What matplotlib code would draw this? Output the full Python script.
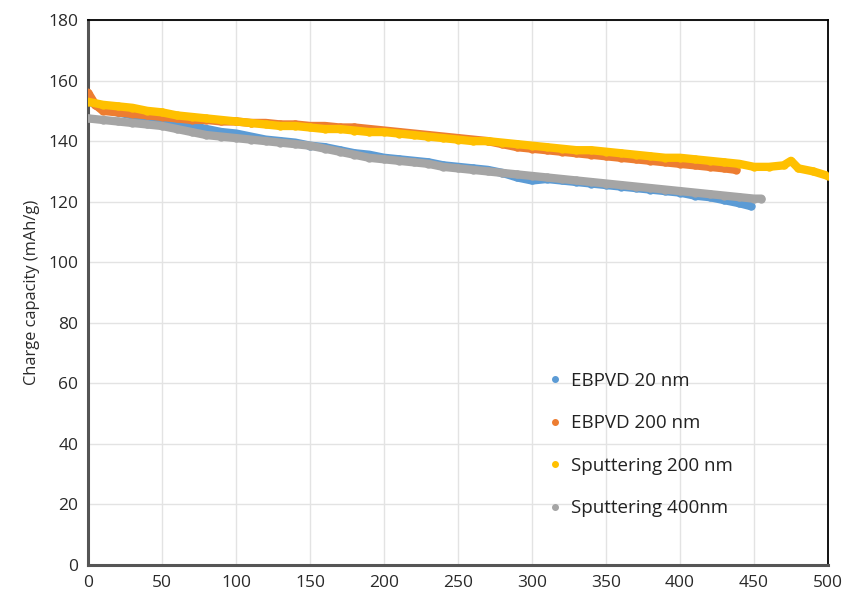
import matplotlib
matplotlib.use("Agg")
from matplotlib import pyplot as plt
from matplotlib.lines import Line2D

# values, every ~10 cycles
x_blue = [0, 10, 20, 30, 40, 50, 60, 70, 80, 90, 100, 110, 120, 130, 140, 150, 160, 170, 180, 190,
          200, 210, 220, 230, 240, 250, 260, 270, 280, 290, 300, 310, 320, 330, 340, 350, 360, 370,
          380, 390, 400, 410, 420, 430, 440, 448]
y_blue = [153.5, 150.5, 149.5, 148.5, 147.5, 146.5, 145.5, 145, 144, 143, 142.5, 141.5, 140.5, 140,
          139.5, 138.5, 138, 137, 136, 135.5, 134.5, 134, 133.5, 133, 132, 131.5, 131, 130.5, 129.5,
          128, 127, 127.5, 127, 126.5, 126, 125.5, 125, 124.5, 124, 123.5, 123, 122, 121.5, 120.5,
          119.5, 118.5]

x_orange = [0, 5, 10, 20, 30, 40, 50, 60, 70, 80, 90, 100, 110, 120, 130, 140, 150, 160, 170, 180,
            190, 200, 210, 220, 230, 240, 250, 260, 270, 280, 290, 300, 310, 320, 330, 340, 350, 360,
            370, 380, 390, 400, 410, 420, 430, 438]
y_orange = [156, 152, 150, 149.5, 149, 148.5, 148, 147.5, 147, 147, 146.5, 146.5, 146, 146, 145.5,
            145.5, 145, 145, 144.5, 144.5, 144, 143.5, 143, 142.5, 142, 141.5, 141, 140.5, 140, 139,
            138, 137.5, 137, 136.5, 136, 135.5, 135, 134.5, 134, 133.5, 133, 132.5, 132, 131.5, 131,
            130.5]

x_yellow = [0, 10, 20, 30, 40, 50, 60, 70, 80, 90, 100, 110, 120, 130, 140, 150, 160, 170, 180, 190,
            200, 210, 220, 230, 240, 250, 260, 270, 280, 290, 300, 310, 320, 330, 340, 350, 360, 370,
            380, 390, 400, 410, 420, 430, 440, 450, 460, 470, 475, 480, 490, 500]
y_yellow = [153, 152, 151.5, 151, 150, 149.5, 148.5, 148, 147.5, 147, 146.5, 146, 145.5, 145, 145,
            144.5, 144, 144, 143.5, 143, 143, 142.5, 142, 141.5, 141, 140.5, 140, 140, 139.5, 139,
            138.5, 138, 137.5, 137, 137, 136.5, 136, 135.5, 135, 134.5, 134.5, 134, 133.5, 133,
            132.5, 131.5, 131.5, 132, 133.5, 131, 130, 128.5]

x_gray = [0, 10, 20, 30, 40, 50, 60, 70, 80, 90, 100, 110, 120, 130, 140, 150, 160, 170, 180, 190,
          200, 210, 220, 230, 240, 250, 260, 270, 280, 290, 300, 310, 320, 330, 340, 350, 360, 370,
          380, 390, 400, 410, 420, 430, 440, 450, 455]
y_gray = [147.5, 147, 146.5, 146, 145.5, 145, 144, 143, 142, 141.5, 141, 140.5, 140, 139.5, 139,
          138.5, 137.5, 136.5, 135.5, 134.5, 134, 133.5, 133, 132.5, 131.5, 131, 130.5, 130, 129.5,
          129, 128.5, 128, 127.5, 127, 126.5, 126, 125.5, 125, 124.5, 124, 123.5, 123, 122.5, 122,
          121.5, 121, 121]

labels = ["EBPVD 20 nm", "EBPVD 200 nm", "Sputtering 200 nm", "Sputtering 400nm"]
colors = ["#5B9BD5", "#ED7D31", "#FFC000", "#A5A5A5"]

plt.rcParams['font.family'] = ['Open Sans', 'DejaVu Sans']

fig = plt.figure(figsize=(8.49, 6.01), dpi=100)
ax = fig.add_axes([0.1037, 0.0599, 0.8716, 0.9068])

series = [(x_blue, y_blue), (x_orange, y_orange), (x_yellow, y_yellow), (x_gray, y_gray)]
for (xs, ys), c in zip(series, colors):
    ax.plot(xs, ys, color=c, lw=6, marker='o', ms=5, solid_capstyle='round', zorder=3)

ax.set_xlim(0, 500)
ax.set_ylim(0, 180)
ax.set_xticks(range(0, 501, 50))
ax.set_yticks(range(0, 181, 20))
ax.grid(True, color='#E3E3E3', lw=1)
ax.set_axisbelow(True)
ax.tick_params(length=0, labelsize=12.5, colors='#2a2a2a', pad=7)
ax.set_ylabel("Charge capacity (mAh/g)", fontsize=11.8, color='#2a2a2a', labelpad=6)

for s in ['left', 'bottom']:
    ax.spines[s].set_color('#555555')
    ax.spines[s].set_linewidth(2.2)
for s in ['top', 'right']:
    ax.spines[s].set_color('black')
    ax.spines[s].set_linewidth(1.3)

handles = [Line2D([], [], ls='', marker='o', ms=4, color=c) for c in colors]
ax.legend(handles, labels, loc='upper left', bbox_to_anchor=(0.6, 0.385), frameon=False,
          fontsize=13.5, handlelength=0.6, handletextpad=0.6, labelspacing=1.3,
          labelcolor='#222222')

fig.savefig("out.png", dpi=100)
